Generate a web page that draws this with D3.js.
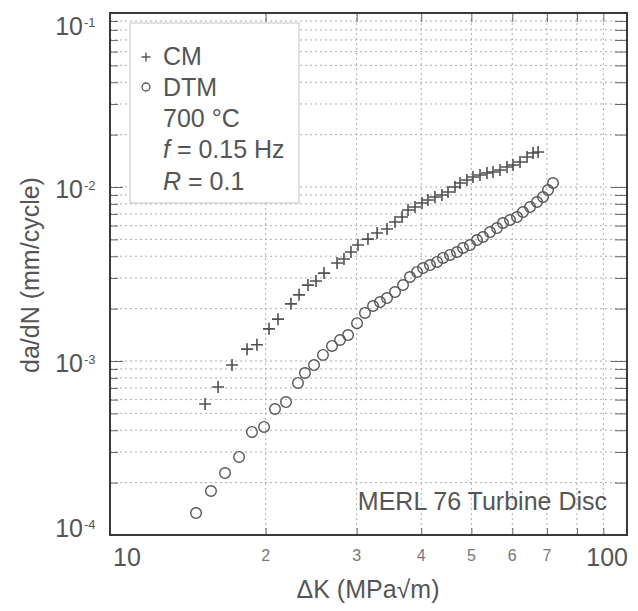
<!DOCTYPE html>
<html><head><meta charset="utf-8">
<script src="https://cdn.jsdelivr.net/npm/d3@7"></script>
<style>
body{margin:0;background:#fff}
text{font-family:"Liberation Sans",Arial,Helvetica,sans-serif}
</style>
</head><body>
<svg id="chart" width="638" height="611"></svg>
<script>
// ---- data ----
const cmDK = [15.27,16.18,17.22,18.41,19.24,20.30,21.13,22.39,23.21,24.15,25.03,25.94,27.49,28.35,29.25,30.18,31.55,32.85,34.34,35.59,36.72,37.71,38.90,40.13,41.21,42.52,43.86,45.06,46.48,47.53,49.03,50.36,51.96,53.60,55.06,56.80,58.60,60.19,62.09,64.07,65.81,67.30];
const cmRate = [5.66e-4,7.09e-4,9.48e-4,1.17e-3,1.24e-3,1.53e-3,1.74e-3,2.13e-3,2.40e-3,2.73e-3,2.88e-3,3.20e-3,3.66e-3,3.86e-3,4.23e-3,4.64e-3,5.02e-3,5.44e-3,5.74e-3,6.29e-3,6.72e-3,7.38e-3,7.67e-3,8.09e-3,8.42e-3,8.76e-3,8.99e-3,9.36e-3,1.00e-2,1.054e-2,1.097e-2,1.141e-2,1.172e-2,1.204e-2,1.22e-2,1.253e-2,1.303e-2,1.338e-2,1.392e-2,1.487e-2,1.568e-2,1.589e-2];
const dtmDK = [14.67,15.68,16.69,17.77,18.82,19.86,20.85,21.90,23.10,23.83,24.81,25.82,26.88,27.86,28.87,30.05,31.13,32.27,33.29,34.34,35.59,36.88,38.04,39.26,40.32,41.59,42.91,44.07,45.46,46.90,48.17,49.69,51.27,52.66,54.33,56.05,57.56,59.39,61.27,62.93,64.93,66.98,68.80,70.35,71.93];
const dtmRate = [1.337e-4,1.79e-4,2.27e-4,2.81e-4,3.91e-4,4.18e-4,5.30e-4,5.81e-4,7.48e-4,8.53e-4,9.48e-4,1.083e-3,1.22e-3,1.32e-3,1.41e-3,1.65e-3,1.89e-3,2.07e-3,2.18e-3,2.30e-3,2.49e-3,2.73e-3,3.04e-3,3.25e-3,3.42e-3,3.56e-3,3.71e-3,3.91e-3,4.07e-3,4.23e-3,4.46e-3,4.64e-3,4.96e-3,5.16e-3,5.51e-3,5.81e-3,6.21e-3,6.46e-3,6.72e-3,7.18e-3,7.67e-3,8.20e-3,8.76e-3,9.61e-3,1.054e-2];
const xTickValues = [10,20,30,40,50,60,70,80,90,100];
const xTickLabels = ["10","2","3","4","5","6","7","","","100"];
const yMajorTicks = [1e-4,1e-3,1e-2,1e-1];
const yTickExponents = ["-4","-3","-2","-1"];
const legendLabels = ["CM","DTM"];
const legendNotes = ["700 °C"];
const xDomain = [10,100];
const yDomain = [1e-4,1e-1];
const xTitle = "ΔK (MPa√m)";
const yTitle = "da/dN (mm/cycle)";
const noteText = "MERL 76 Turbine Disc";

// ---- layout ----
const L = 110, R = 627, T = 13, B = 535;
const ink = "#4a4a4a";
const svg = d3.select("#chart");
const x = d3.scaleLog().domain(xDomain).range([L, R]);
const y = d3.scaleLog().domain(yDomain).range([B, T]);

const yAll = [];
for (let e = -4; e < -1; e++) for (let m = 1; m <= 9; m++) yAll.push(m * Math.pow(10, e));
yAll.push(1e-1);
const yInner = yAll.filter(v => v > 1.0001e-4 && v < 0.0999);
const xInner = xTickValues.filter(v => v > 10 && v < 100);

// grid
const grid = svg.append("g").attr("stroke", "#9a9a9a").attr("stroke-width", 1)
  .attr("stroke-dasharray", "2,3").attr("opacity", 0.8);
grid.selectAll("line.h").data(yInner).join("line").attr("class", "h")
  .attr("x1", L).attr("x2", R).attr("y1", d => y(d)).attr("y2", d => y(d));
grid.selectAll("line.v").data(xInner).join("line").attr("class", "v")
  .attr("y1", T).attr("y2", B).attr("x1", d => x(d)).attr("x2", d => x(d));

// legend box (covers grid)
const legend = svg.append("g");
legend.append("rect").attr("x", 130).attr("y", 23).attr("width", 169).attr("height", 180)
  .attr("fill", "#fff").attr("stroke", "#c4c4c4").attr("stroke-width", 1);

// axes with inward ticks
const isMajorY = v => Math.abs(Math.log10(v) - Math.round(Math.log10(v))) < 1e-6;
const axL = d3.axisLeft(y).tickValues(yAll).tickFormat("").tickSizeOuter(0)
  .tickSizeInner(0);
const gL = svg.append("g").attr("transform", `translate(${L},0)`).call(axL);
gL.selectAll(".tick line").attr("x2", d => isMajorY(d) ? 13 : 8);
const gR = svg.append("g").attr("transform", `translate(${R},0)`).call(d3.axisRight(y).tickValues(yAll).tickFormat("").tickSizeOuter(0).tickSizeInner(0));
gR.selectAll(".tick line").attr("x2", d => isMajorY(d) ? -16 : -12);
const gT = svg.append("g").attr("transform", `translate(0,${T})`).call(d3.axisTop(x).tickValues(xTickValues).tickFormat("").tickSizeOuter(0).tickSizeInner(-9));
const gB = svg.append("g").attr("transform", `translate(0,${B})`).call(d3.axisBottom(x).tickValues(xTickValues).tickFormat("").tickSizeOuter(0).tickSizeInner(-7));
[gL, gR, gT, gB].forEach(g => {
  g.selectAll(".domain").remove();
  g.selectAll(".tick line").attr("stroke", "#666").attr("stroke-width", 1);
});
svg.append("rect").attr("x", L).attr("y", T).attr("width", R - L).attr("height", B - T)
  .attr("fill", "none").attr("stroke", "#3a3a3a").attr("stroke-width", 2);

// y tick labels: 10^n
const yl = svg.append("g").attr("fill", "#555");
yMajorTicks.forEach((v, i) => {
  const base = Math.max(35, Math.min(537, y(v) + 11));
  yl.append("text").attr("x", 83).attr("y", base).attr("text-anchor", "end")
    .attr("font-size", 25).text("10");
  yl.append("text").attr("x", 84).attr("y", base - 8).attr("font-size", 13).text(yTickExponents[i]);
});

// x tick labels
const xl = svg.append("g").attr("fill", "#555");
xTickValues.forEach((v, i) => {
  const lab = xTickLabels[i];
  if (!lab) return;
  const big = lab.length > 1;
  xl.append("text")
    .attr("x", v === xDomain[0] ? x(v) + 3 : v === xDomain[1] ? x(v) + 1 : x(v))
    .attr("y", big ? 566 : 561)
    .attr("text-anchor", v === xDomain[0] ? "start" : v === xDomain[1] ? "end" : "middle")
    .attr("font-size", big ? 25 : 16)
    .attr("fill", big ? "#555" : "#777")
    .text(lab);
});

// titles
svg.append("text").attr("x", 368).attr("y", 598).attr("text-anchor", "middle")
  .attr("font-size", 25).attr("fill", "#555").text(xTitle);
svg.append("text").attr("transform", "translate(39,275) rotate(-90)").attr("text-anchor", "middle")
  .attr("font-size", 25).attr("fill", "#555").text(yTitle);

// note
svg.append("text").attr("x", 607).attr("y", 510).attr("text-anchor", "end")
  .attr("font-size", 25).attr("fill", "#555").text(noteText);

// markers
const plusPath = s => `M${-s},0H${s}M0,${-s}V${s}`;
svg.append("g").selectAll("path").data(cmDK.map((d, i) => [d, cmRate[i]])).join("path")
  .attr("transform", d => `translate(${x(d[0])},${y(d[1])})`)
  .attr("d", plusPath(6)).attr("stroke", "#505050").attr("stroke-width", 1.6).attr("fill", "none");
svg.append("g").selectAll("circle").data(dtmDK.map((d, i) => [d, dtmRate[i]])).join("circle")
  .attr("cx", d => x(d[0])).attr("cy", d => y(d[1])).attr("r", 5.3)
  .attr("stroke", "#555").attr("stroke-width", 1.4).attr("fill", "none");

// legend content
legend.append("path").attr("transform", "translate(146,57)").attr("d", plusPath(4.5))
  .attr("stroke", "#555").attr("stroke-width", 1.4);
legend.append("circle").attr("cx", 146).attr("cy", 87).attr("r", 4)
  .attr("fill", "none").attr("stroke", "#555").attr("stroke-width", 1.3);
const lt = legend.append("g").attr("fill", "#555").attr("font-size", 25);
lt.append("text").attr("x", 163).attr("y", 65).text(legendLabels[0]);
lt.append("text").attr("x", 163).attr("y", 96).text(legendLabels[1]);
lt.append("text").attr("x", 163).attr("y", 127).text(legendNotes[0]);
const fLine = lt.append("text").attr("x", 163).attr("y", 158);
fLine.append("tspan").attr("font-style", "italic").text("f");
fLine.append("tspan").text(" = 0.15 Hz");
const rLine = lt.append("text").attr("x", 163).attr("y", 190);
rLine.append("tspan").attr("font-style", "italic").text("R");
rLine.append("tspan").text(" = 0.1");
</script>
</body></html>
